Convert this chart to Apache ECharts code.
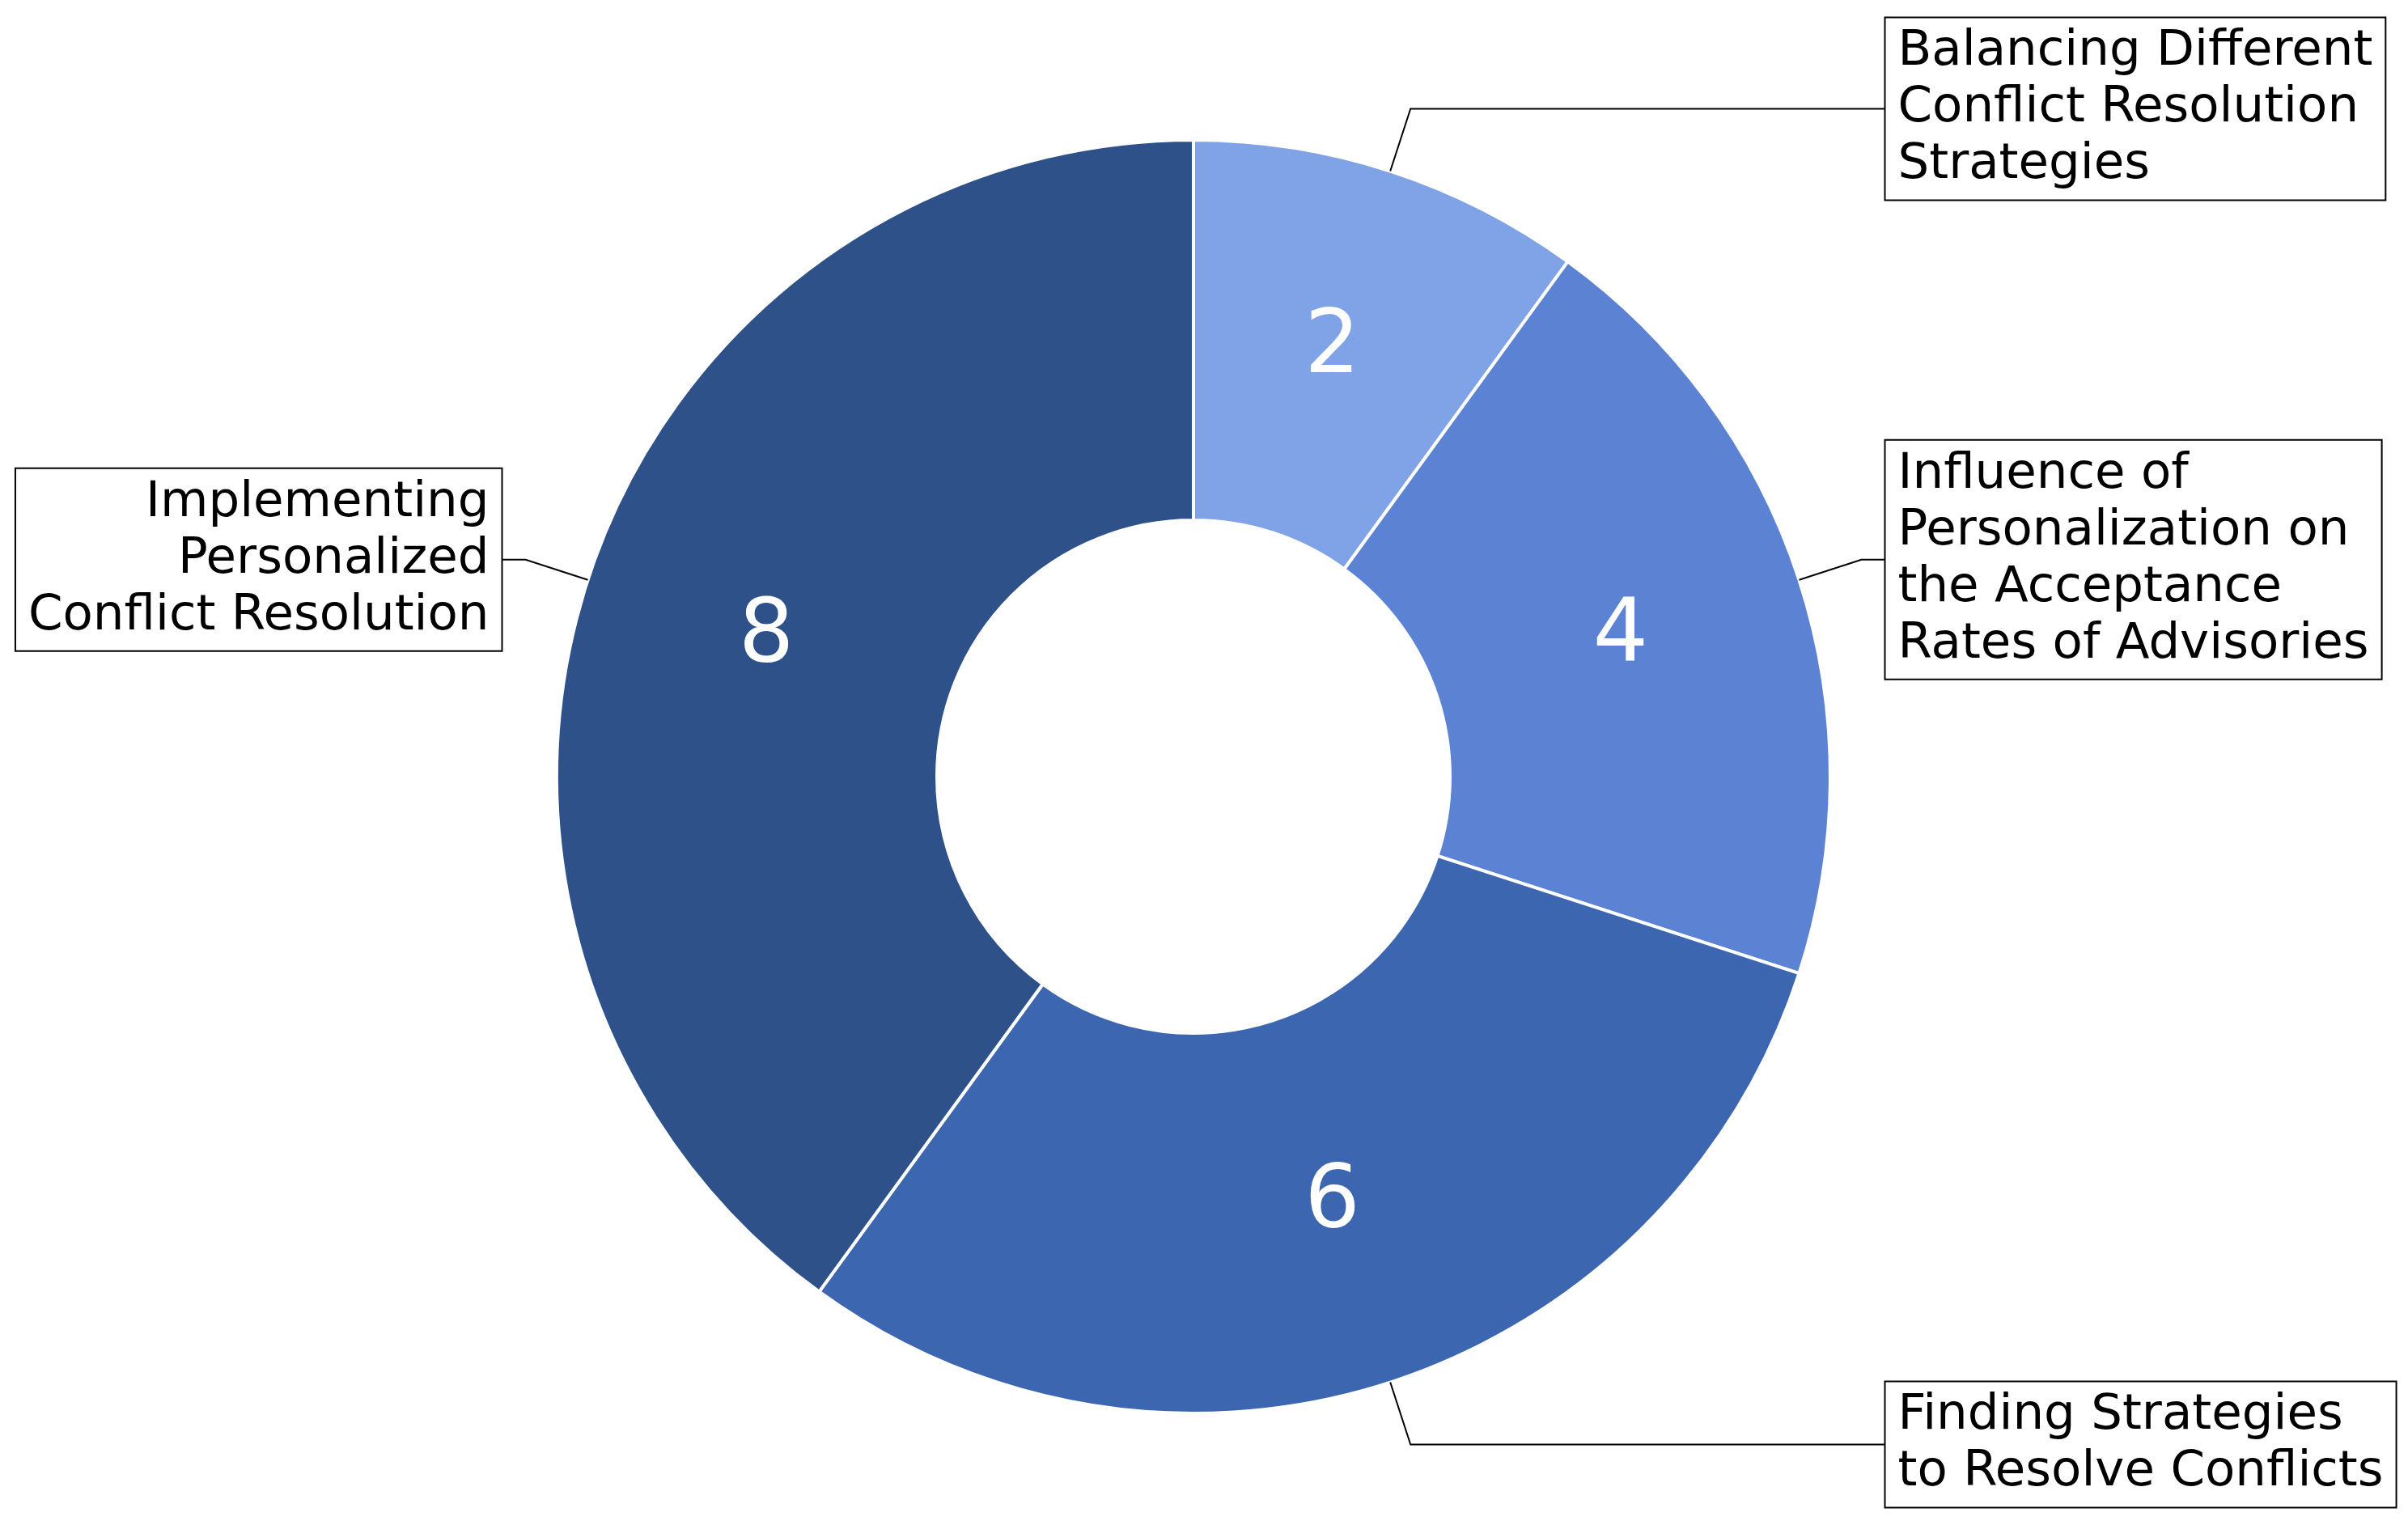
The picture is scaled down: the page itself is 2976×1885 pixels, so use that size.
<!DOCTYPE html>
<html>
<head>
<meta charset="utf-8">
<script src="https://cdn.jsdelivr.net/npm/echarts@6/dist/echarts.min.js"></script>
<style>
  html, body { margin: 0; padding: 0; background: #fff; }
  #chart { width: 2976px; height: 1885px; }
</style>
</head>
<body>
<div id="chart"></div>
<script>
// chart data
const categories = [
  'Balancing Different\nConflict Resolution\nStrategies',
  'Influence of\nPersonalization on\nthe Acceptance\nRates of Advisories',
  'Finding Strategies\nto Resolve Conflicts',
  'Implementing\nPersonalized\nConflict Resolution'
];
const values = [2, 4, 6, 8];
const colors = ['#7fa3e6', '#5b82d3', '#3d66b0', '#2e5189'];

const font = 'DejaVu Sans';
const center = [1475, 960];
const radius = [317, 787];
const lineLen = 81;
const lineLen2 = 30;

// work out length2 per slice so the boxes on each side line up
// (the ends of the leader lines share one x per side)
const total = values.reduce((a, b) => a + b, 0);
let cum = 0;
const x2s = values.map(v => {
  const mid = (90 - (cum + v / 2) / total * 360) * Math.PI / 180;
  cum += v;
  return center[0] + (radius[1] + lineLen) * Math.cos(mid);
});
const rightX = Math.max(...x2s.filter(x => x >= center[0])) + lineLen2;
const leftX = Math.min(...x2s.filter(x => x < center[0])) - lineLen2;

const pieData = categories.map((name, i) => ({ name: name, value: values[i] }));
const labelData = categories.map((name, i) => ({
  name: name,
  value: values[i],
  labelLine: {
    length2: x2s[i] >= center[0] ? rightX - x2s[i] : x2s[i] - leftX
  }
}));

let chart = echarts.init(document.getElementById('chart'));
chart.setOption({
  animation: false,
  color: colors,
  series: [
    {
      // slices with value numbers inside
      type: 'pie',
      center: center,
      radius: radius,
      startAngle: 90,
      clockwise: true,
      itemStyle: { borderColor: '#fff', borderWidth: 4 },
      label: {
        position: 'inside',
        formatter: '{c}',
        color: '#fff',
        fontFamily: font,
        fontSize: 108
      },
      labelLine: { show: false },
      emphasis: { disabled: true },
      data: pieData
    },
    {
      // same pie, invisible, just for the boxed outside labels
      type: 'pie',
      center: center,
      radius: radius,
      startAngle: 90,
      clockwise: true,
      silent: true,
      bleedMargin: 0,
      z: 3,
      itemStyle: { color: 'transparent', borderWidth: 0 },
      label: {
        position: 'outside',
        distanceToLabelLine: 0,
        formatter: '{b}',
        overflow: 'none',
        color: '#000',
        fontFamily: font,
        fontSize: 61,
        lineHeight: 70,
        backgroundColor: '#fff',
        borderColor: '#000',
        borderWidth: 2,
        padding: [8, 15, 6, 15]
      },
      labelLine: {
        show: true,
        length: lineLen,
        length2: lineLen2,
        smooth: false,
        lineStyle: { color: '#000', width: 2 }
      },
      emphasis: { disabled: true },
      data: labelData
    }
  ]
});
</script>
</body>
</html>
